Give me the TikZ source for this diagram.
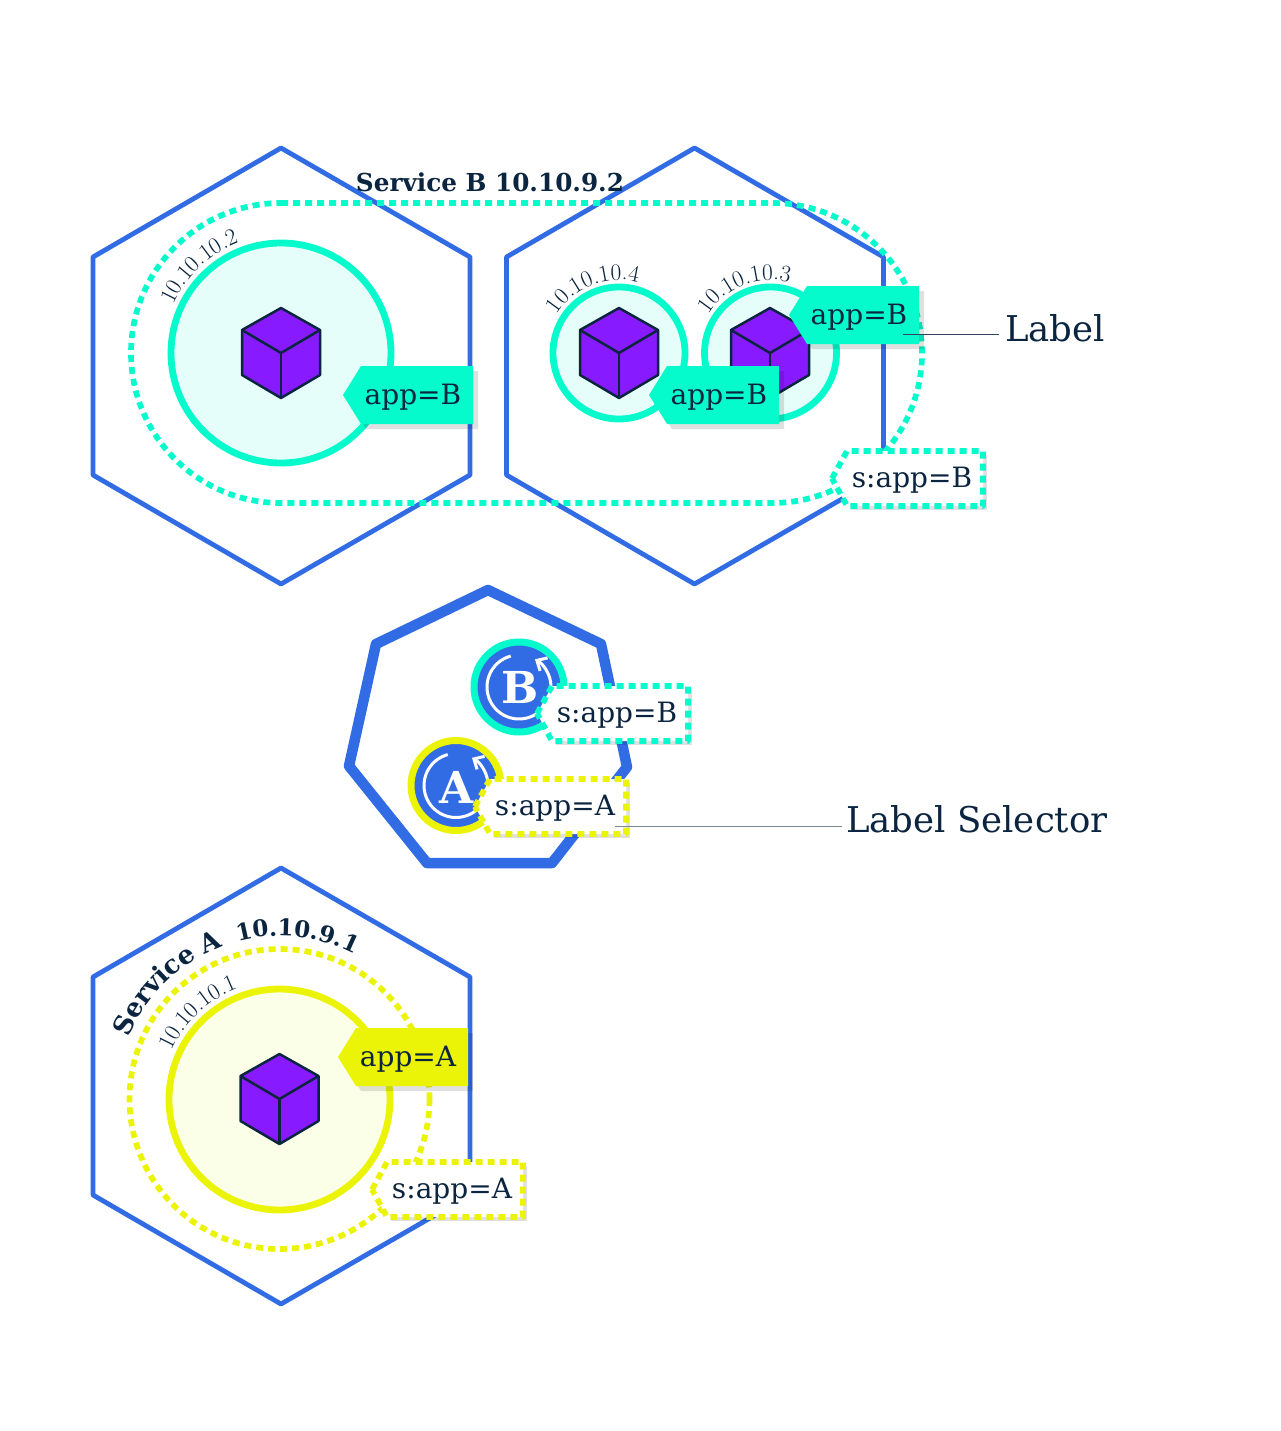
\documentclass[tikz,border=0pt]{standalone}
\usepackage{fontspec}
\usepackage{tikz}
\usetikzlibrary{arrows.meta}
\usetikzlibrary{decorations.text}
\newfontfamily\slabfont{DejaVu Serif}
\definecolor{hexblue}{HTML}{326CE5}
\definecolor{podteal}{HTML}{05FACC}
\definecolor{podyellow}{HTML}{EBF406}
\definecolor{tealpale}{HTML}{E6FEFA}
\definecolor{yellowpale}{HTML}{FCFFE8}
\definecolor{cubepurple}{HTML}{871AFF}
\definecolor{ink}{HTML}{0B2540}
\newcommand{\ipfont}{\fontsize{23.5}{25}\selectfont\color{ink}}
\newcommand{\svcfont}{\slabfont\bfseries\fontsize{24.7}{26}\selectfont\color{ink}}
\newcommand{\svcAfont}{\slabfont\bfseries\fontsize{26}{28}\selectfont\color{ink}}
\newcommand{\svcIpfont}{\slabfont\bfseries\fontsize{23}{25}\selectfont\color{ink}}

\begin{document}
\begin{tikzpicture}[
    x=1pt,y=-1pt,
    hexagon/.style={draw=hexblue,line width=4.8pt,line join=round},
    selector/.style={dash pattern=on 7pt off 5pt,line width=5.7pt},
    pod/.style={circle,inner sep=0pt,outer sep=0pt,line width=6.8pt},
    controller/.style={circle,inner sep=0pt,outer sep=0pt,line width=7pt,fill=hexblue,
        minimum size=90pt},
    lettertext/.style={text=white,inner sep=0pt,font=\slabfont\bfseries\fontsize{44}{46}\selectfont},
    tagtext/.style={text=ink,inner sep=0pt,font=\slabfont\fontsize{28}{30}\selectfont},
    sidetext/.style={text=ink,inner sep=0pt,anchor=west,font=\slabfont\fontsize{35.5}{38}\selectfont},
    leader/.style={line width=1pt},
    iparc/.style={decorate,decoration={text along path,text={|\ipfont|#1}}},
    svcarc/.style={decorate,decoration={text along path,text={|\svcAfont|#1}}},
    svcarcip/.style={decorate,decoration={text along path,text={|\svcIpfont|#1}}}
]
\useasboundingbox (0,0) rectangle (1280,1431);

\foreach \hexx/\hexy in {281/366,694.5/366,281/1086}{
    \draw[hexagon] (\hexx,\hexy-218) -- (\hexx+189,\hexy-109) -- (\hexx+189,\hexy+109)
        -- (\hexx,\hexy+218) -- (\hexx-188,\hexy+109) -- (\hexx-188,\hexy-109) -- cycle;
}

\draw[hexblue,line width=10.5pt,line join=round] (488,590) -- (601,644) -- (627,767) -- (552,863)
    -- (427,863) -- (349,766) -- (376,644) -- cycle;

\draw[podteal,selector] (281,203) -- (772,203) arc[start angle=-90,end angle=90,radius=150]
    -- (281,503) arc[start angle=90,end angle=270,radius=150] -- cycle;
\draw[podyellow,selector] (279.5,1099) circle[radius=150];

\node[pod,draw=podteal,fill=tealpale,minimum size=220pt] (podB) at (281,353) {};
\node[pod,draw=podteal,fill=tealpale,minimum size=132pt] (podC) at (619,353) {};
\node[pod,draw=podteal,fill=tealpale,minimum size=132pt] (podD) at (770.5,353) {};
\node[pod,draw=podyellow,fill=yellowpale,minimum size=221pt] (podA) at (279.5,1099.5) {};

\foreach \cubex/\cubey in {281/353,619/353,770/353,279.5/1099}{
\begin{scope}[shift={(\cubex,\cubey)}]
    \draw[ink,fill=cubepurple,line width=2.5pt,line join=round] (0,-45) -- (39,-23) -- (39,22)
        -- (0,45) -- (-39,22) -- (-39,-23) -- cycle;
    \draw[ink,line width=2.5pt,line join=round] (-39,-23) -- (0,0) -- (39,-23);
    \draw[ink,line width=2.5pt] (0,0) -- (0,45);
\end{scope}
}

\path[iparc={10.10.10.2}] ([shift={(-156:118)}]281,353) arc[start angle=-156,end angle=-40,radius=118];
\path[iparc={10.10.10.4}] ([shift={(-148:73)}]619,353) arc[start angle=-148,end angle=-30,radius=73];
\path[iparc={10.10.10.3}] ([shift={(-148:73)}]770.5,353) arc[start angle=-148,end angle=-30,radius=73];
\path[iparc={10.10.10.1}] ([shift={(-156:118)}]279.5,1099) arc[start angle=-156,end angle=-40,radius=118];
\path[svcarc={Service A}] ([shift={(-158:163)}]280,1099) arc[start angle=-158,end angle=-90,radius=163];
\path[svcarcip={10.10.9.1}] ([shift={(-105:163)}]280,1099) arc[start angle=-105,end angle=-40,radius=163];

\node[tagtext,font=\svcfont] (serviceB) at (490,182) {Service B 10.10.9.2};

\node[controller,draw=podteal] (ctrlB) at (519,687) {};
\node[controller,draw=podyellow] (ctrlA) at (456,785.5) {};
\node[lettertext] (letterB) at (520,687) {B};
\node[lettertext] (letterA) at (456.5,787) {A};
\draw[white,line width=3pt,-{Straight Barb[length=8pt,width=15pt]}] ([shift={(-105:32)}]ctrlB.center)
    arc[start angle=-105,end angle=-420,radius=32];
\draw[white,line width=3pt,-{Straight Barb[length=8pt,width=15pt]}] ([shift={(-105:32)}]ctrlA.center)
    arc[start angle=-105,end angle=-420,radius=32];

\foreach \tagname/\tipx/\topy/\tagcolor/\txt in {
    tagB/343/366/podteal/app=B,tagC/649/366/podteal/app=B,
    tagD/789/286/podteal/app=B,tagA/338/1028/podyellow/app=A}{
    \fill[black,opacity=.12] (\tipx+5,\topy+34) -- (\tipx+23,\topy+5) -- (\tipx+135,\topy+5)
        -- (\tipx+135,\topy+63) -- (\tipx+23,\topy+63) -- cycle;
    \fill[\tagcolor] (\tipx,\topy+29) -- (\tipx+18,\topy) -- (\tipx+130,\topy)
        -- (\tipx+130,\topy+58) -- (\tipx+18,\topy+58) -- cycle;
    \node[tagtext] (\tagname) at (\tipx+70,\topy+31) {\txt};
}

\foreach \tagname/\tipx/\topy/\tagcolor/\txt in {
    selB/832/451/podteal/s:app=B,selC/537/686/podteal/s:app=B,
    selA/475/779/podyellow/s:app=A,selD/372/1162/podyellow/s:app=A}{
    \fill[black,opacity=.12] (\tipx+19,\topy+4) -- (\tipx+155,\topy+4) -- (\tipx+155,\topy+59)
        -- (\tipx+19,\topy+59) -- cycle;
    \draw[\tagcolor,selector,fill=white,line join=round] (\tipx,\topy+27.5) -- (\tipx+15,\topy) -- (\tipx+151,\topy)
        -- (\tipx+151,\topy+55) -- (\tipx+15,\topy+55) -- cycle;
    \node[tagtext] (\tagname) at (\tipx+80,\topy+29.5) {\txt};
}

\coordinate (labelEnd) at (903,334);
\coordinate (selectorEnd) at (615,826);
\node[sidetext] (labelText) at (1005,328) {Label};
\node[sidetext] (selectorText) at (846,819) {Label Selector};
\draw[leader,ink!85] (labelEnd) -- ([xshift=-6pt]labelText.west |- labelEnd);
\draw[leader,ink!55] (selectorEnd) -- ([xshift=-4pt]selectorText.west |- selectorEnd);

\end{tikzpicture}
\end{document}
